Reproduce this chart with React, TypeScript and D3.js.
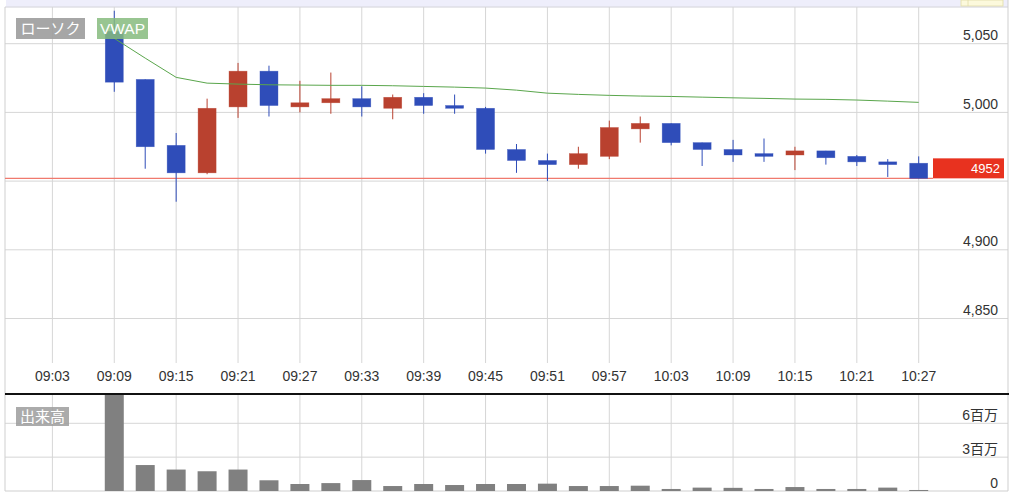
import React from "react";
import * as d3 from "d3";

const candleTimes = ["09:09","09:12","09:15","09:18","09:21","09:24","09:27","09:30","09:33","09:36","09:39","09:42","09:45","09:48","09:51","09:54","09:57","10:00","10:03","10:06","10:09","10:12","10:15","10:18","10:21","10:24","10:27"];
const opens  = [5059,5024,4976,4956,5004,5030,5004,5007,5010,5003,5011,5005,5003,4973,4965,4962,4968,4988,4992,4978,4973,4970,4969,4972,4968,4964,4963];
const highs  = [5074,5024,4985,5010,5036,5034,5023,5029,5019,5013,5014,5013,5004,4977,4970,4975,4994,4997,4992,4978,4980,4981,4975,4972,4969,4966,4968];
const lows   = [5015,4959,4935,4955,4996,4997,5000,4999,4997,4995,4999,4999,4970,4956,4950,4959,4966,4978,4976,4961,4964,4964,4958,4962,4961,4953,4952];
const closes = [5022,4975,4956,5003,5030,5005,5007,5010,5004,5011,5005,5003,4973,4965,4962,4970,4989,4992,4978,4973,4969,4968,4972,4967,4964,4962,4952];
const vwap   = [5053.9,5039.5,5025.5,5021.3,5020.6,5020.1,5019.9,5019.7,5019.7,5019.4,5018.9,5018.4,5017.7,5016.2,5014,5013.1,5012.4,5011.9,5011.6,5011.1,5010.6,5010.2,5009.7,5009.5,5009,5008.2,5007.3];
const volumes = [8.6,2.3,1.9,1.75,1.9,0.95,0.62,0.7,0.97,0.44,0.62,0.53,0.62,0.62,0.65,0.44,0.44,0.47,0.18,0.3,0.28,0.18,0.35,0.18,0.18,0.3,0.09]; // millions
const timeTicks = ["09:03","09:09","09:15","09:21","09:27","09:33","09:39","09:45","09:51","09:57","10:03","10:09","10:15","10:21","10:27"];
const priceTicks = [4850,4900,4950,5000,5050];
const priceLabels = [4850,4900,5000,5050];
const volTicks = [0,3,6];
const lastPrice = 4952;

const toMin = (s: string) => { const [h, m] = s.split(":").map(Number); return (h - 9) * 60 + m; };

const FONT = "'Liberation Sans', Arial, 'Noto Sans CJK JP', sans-serif";
const JFONT = "'Noto Sans CJK JP', 'Liberation Sans', sans-serif";

export default function App() {
  const L = 5, R = 1008;
  const x = d3.scaleLinear().domain([3, 87]).range([52.4, 918.7]);
  const y = d3.scaleLinear().domain([4850, 5050]).range([318.5, 43.7]);
  const yv = d3.scaleLinear().domain([0, 6]).range([491, 423.3]);
  const priceTop = 7, gridBottom = 363, sep = 394, volBottom = 491;
  const bw = 18;
  const blue = "#2f4db9", red = "#b9412f";
  const fmt = d3.format(",");

  const vwapLine = d3.line<number>()
    .x((_, i) => x(toMin(candleTimes[i])))
    .y((d) => y(d));

  return (
    <svg width={1024} height={503} style={{ position: "absolute", left: 0, top: 0, background: "#fff" }}>
      <defs>
        <clipPath id="volclip"><rect x={L} y={sep + 1} width={R - L} height={volBottom - sep - 1} /></clipPath>
      </defs>
      {/* top strip */}
      <rect x={6} y={0} width={R - 6} height={6.5} fill="#eeeefb" />
      <line x1={L} x2={R} y1={7} y2={7} stroke="#cfcfd8" />
      <rect x={961} y={0} width={42} height={6} fill="#fcf9dc" stroke="#e2dda8" strokeWidth={0.8} />
      <line x1={968} x2={968} y1={0} y2={6} stroke="#e2dda8" strokeWidth={0.8} />

      {/* price grid */}
      {timeTicks.map((t) => (
        <line key={"vg" + t} x1={x(toMin(t))} x2={x(toMin(t))} y1={priceTop} y2={gridBottom} stroke="#d6d6d6" />
      ))}
      {priceTicks.map((p) => (
        <line key={"hg" + p} x1={L} x2={R} y1={y(p)} y2={y(p)} stroke="#d6d6d6" />
      ))}
      {/* volume grid */}
      {timeTicks.map((t) => (
        <line key={"vvg" + t} x1={x(toMin(t))} x2={x(toMin(t))} y1={sep} y2={volBottom} stroke="#d6d6d6" />
      ))}
      {volTicks.filter((v) => v > 0).map((v) => (
        <line key={"vh" + v} x1={L} x2={R} y1={yv(v)} y2={yv(v)} stroke="#d6d6d6" />
      ))}
      <line x1={L} x2={R} y1={volBottom} y2={volBottom} stroke="#cfcfcf" />
      <line x1={L} x2={L} y1={priceTop} y2={volBottom} stroke="#cfcfcf" />
      <line x1={R} x2={R} y1={0} y2={volBottom} stroke="#cfcfcf" />

      {/* price labels */}
      {priceLabels.map((p) => (
        <text key={"pl" + p} x={998} y={y(p) - 3.5} textAnchor="end" fontFamily={FONT} fontSize={14} fill="#333">{fmt(p)}</text>
      ))}

      {/* last price line */}
      <line x1={L} x2={933} y1={y(lastPrice)} y2={y(lastPrice)} stroke="#f07a6e" strokeWidth={1.2} />
      <rect x={933} y={y(lastPrice) - 20} width={71} height={20} fill="#e8321f" />
      <text x={1000} y={y(lastPrice) - 5.5} textAnchor="end" fontFamily={FONT} fontSize={13} fill="#fff">{lastPrice}</text>

      {/* candles */}
      {candleTimes.map((t, i) => {
        const cx = x(toMin(t));
        const up = closes[i] >= opens[i];
        const col = up ? red : blue;
        const top = y(Math.max(opens[i], closes[i]));
        const bot = y(Math.min(opens[i], closes[i]));
        const h = Math.max(2.5, bot - top);
        return (
          <g key={"c" + t}>
            <line x1={cx} x2={cx} y1={y(highs[i])} y2={y(lows[i])} stroke={col} strokeWidth={1} />
            <rect x={cx - bw / 2} y={top} width={bw} height={h} fill={col} stroke={col} strokeOpacity={0.6} strokeWidth={0.6} />
          </g>
        );
      })}

      {/* VWAP */}
      <path d={vwapLine(vwap) || ""} fill="none" stroke="#5aa64c" strokeWidth={1} />

      {/* legend labels */}
      <rect x={16} y={18} width={69} height={21} fill="#9c9c9c" opacity={0.9} />
      <text x={50.5} y={34} textAnchor="middle" fontFamily={JFONT} fontSize={15} fill="#fff">ローソク</text>
      <rect x={97} y={18} width={51} height={21} fill="#86bb7e" opacity={0.85} />
      <text x={122.5} y={34} textAnchor="middle" fontFamily={FONT} fontSize={15.5} fill="#fff">VWAP</text>

      {/* time labels */}
      {timeTicks.map((t) => (
        <text key={"tl" + t} x={x(toMin(t))} y={381} textAnchor="middle" fontFamily={FONT} fontSize={14} fill="#333">{t}</text>
      ))}

      {/* separator */}
      <line x1={L} x2={R + 1} y1={sep} y2={sep} stroke="#111" strokeWidth={2} />

      {/* volume bars */}
      <g clipPath="url(#volclip)">
        {candleTimes.map((t, i) => (
          <rect key={"v" + t} x={x(toMin(t)) - 9.5} y={yv(volumes[i])} width={19} height={volBottom - yv(volumes[i])} fill="#808080" />
        ))}
      </g>
      <rect x={16} y={407} width={53} height={19} fill="#9c9c9c" opacity={0.85} />
      <text x={42.5} y={421.5} textAnchor="middle" fontFamily={JFONT} fontSize={15} fill="#fff">出来高</text>

      {volTicks.map((v) => (
        <text key={"vl" + v} x={998} y={yv(v) - 3} textAnchor="end" fontFamily={FONT} fontSize={14} fill="#333">
          {v === 0 ? "0" : v + "百万"}
        </text>
      ))}
    </svg>
  );
}
